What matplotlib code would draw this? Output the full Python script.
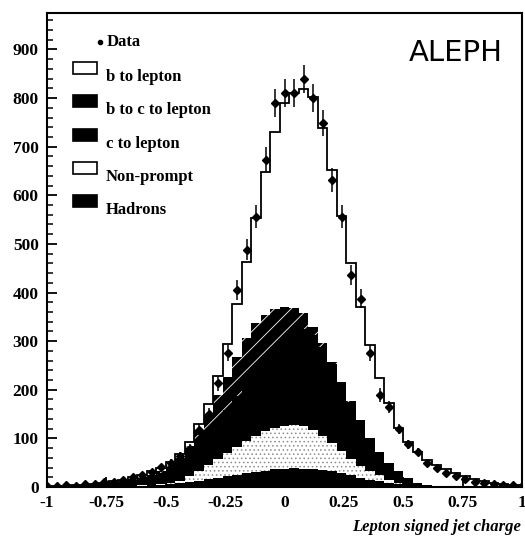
import numpy as np
import matplotlib
matplotlib.use("Agg")
import matplotlib.pyplot as plt
from matplotlib.ticker import MultipleLocator
from matplotlib.patches import Rectangle

# ---------------------------------------------------------------
# Lepton signed jet charge, 51 bins of width 0.04 centred on 0
# ---------------------------------------------------------------
edges = np.linspace(-1.02, 1.02, 52)

# Monte Carlo components (entries per bin), bins left to right
hadrons = [0, 0, 0, 1, 1, 1, 1, 1, 2, 2, 3, 4, 5,
           6, 8, 11, 13, 16, 19, 22, 25, 28, 30, 33, 36,
           38, 39, 38, 37, 35, 32, 28, 24, 19, 15, 12, 9, 6,
           4, 3, 2, 1, 1, 0, 0, 0, 0, 0, 0, 0, 0]

non_prompt = [0, 0, 0, 0, 0, 0, 0, 0, 0, 0, 1, 1, 1,
              2, 4, 11, 20, 29, 38, 47, 57, 66, 74, 82, 86,
              88, 89, 87, 81, 70, 58, 46, 34, 25, 18, 12, 6, 3,
              1, 0, 0, 0, 0, 0, 0, 0, 0, 0, 0, 0, 0]

c_lepton = [2, 2, 3, 2, 3, 5, 7, 9, 9, 13, 14, 17, 23,
            31, 38, 45, 55, 61, 77, 90, 106, 122, 138, 147, 160,
            175, 190, 200, 194, 182, 164, 141, 117, 94, 67, 49, 34, 23,
            13, 5, 2, 1, 0, 0, 0, 0, 0, 0, 0, 0, 0]

b_c_lepton = [0, 0, 0, 0, 0, 0, 0, 0, 1, 1, 2, 3, 4,
              6, 10, 18, 30, 42, 55, 68, 80, 90, 95, 92, 84,
              70, 50, 32, 18, 9, 4, 2, 1, 0, 0, 0, 0, 0,
              0, 0, 0, 0, 0, 0, 0, 0, 0, 0, 0, 0, 0]

b_lepton = [0, 1, 0, 1, 1, 1, 1, 2, 3, 4, 5, 7, 7,
            6, 8, 8, 12, 23, 39, 67, 108, 157, 216, 294, 364,
            419, 443, 462, 472, 443, 394, 341, 285, 232, 192, 152, 124, 89,
            75, 64, 52, 43, 36, 29, 22, 16, 12, 9, 7, 5, 4]

# measured events
data = [3, 2, 4, 3, 6, 6, 10, 11, 14, 21, 24, 30, 41,
        50, 64, 79, 118, 151, 213, 275, 405, 488, 556, 673, 790,
        811, 811, 840, 800, 749, 632, 556, 436, 387, 276, 189, 165, 119,
        88, 72, 49, 39, 29, 23, 16, 10, 8, 6, 5, 4, 3]

xtick_pos = [-1, -0.75, -0.5, -0.25, 0, 0.25, 0.5, 0.75, 1]
xtick_lab = ["-1", "-0.75", "-0.5", "-0.25", "0", "0.25", "0.5", "0.75", "1"]

legend_items = ["b to lepton", "b to c to lepton", "c to lepton",
                "Non-prompt", "Hadrons"]
legend_faces = ["white", "black", "black", "white", "black"]

# cumulative levels of the stack
lvl1 = np.array(hadrons, float)
lvl2 = lvl1 + np.array(non_prompt)
lvl3 = lvl2 + np.array(c_lepton)
lvl4 = lvl3 + np.array(b_c_lepton)
total = lvl4 + np.array(b_lepton)
centers = 0.5 * (edges[:-1] + edges[1:])
data = np.array(data, float)

serif = "Liberation Serif"
plt.rcParams["hatch.linewidth"] = 0.6

fig = plt.figure(figsize=(5.25, 5.38), dpi=100)
ax = fig.add_axes([47 / 525, 51 / 538, 475 / 525, 474 / 538])

ax.stairs(lvl1, edges, baseline=0, fill=True, color="black", lw=0)
ax.stairs(lvl2, edges, baseline=lvl1, fill=True, facecolor="white",
          edgecolor="0.55", hatch="....", lw=0)
ax.stairs(lvl3, edges, baseline=lvl2, fill=True, color="black", lw=0)
ax.stairs(lvl4, edges, baseline=lvl3, fill=True, facecolor="black",
          edgecolor="white", hatch="//", lw=0)
ax.stairs(total, edges, baseline=None, color="black", lw=1.3)

ax.errorbar(centers, data, yerr=np.sqrt(data), xerr=0.012, fmt="D",
            ms=4.5, color="black", ecolor="black", elinewidth=1.1, capsize=0)

ax.set_xlim(-1, 1)
ax.set_ylim(0, 975)
ax.set_xticks(xtick_pos)
ax.set_xticklabels(xtick_lab)
ax.yaxis.set_major_locator(MultipleLocator(100))
ax.yaxis.set_minor_locator(MultipleLocator(20))
ax.tick_params(axis="both", which="major", direction="in", length=7,
               width=1.3, pad=6)
ax.tick_params(axis="y", which="minor", direction="in", length=4, width=1.1)
for lab in ax.get_xticklabels() + ax.get_yticklabels():
    lab.set_fontfamily(serif)
    lab.set_fontweight("bold")
    lab.set_fontsize(12.5)
for s in ax.spines.values():
    s.set_linewidth(1.5)

# hand-made legend in the upper left corner
def ax_xy(px, py):
    return (px - 47) / 475, (487 - py) / 474

x0, y0 = ax_xy(100, 42)
ax.plot([x0], [y0], "o", ms=3, color="black", transform=ax.transAxes)
tx, _ = ax_xy(107, 0)
ax.text(tx, y0, "Data", transform=ax.transAxes, family=serif,
        fontweight="bold", fontsize=12, va="center")
for i, (name, face) in enumerate(zip(legend_items, legend_faces)):
    top = 62 + 33.3 * i
    bx, by = ax_xy(73, top + 12)
    ax.add_patch(Rectangle((bx, by), 24 / 475, 12 / 474, transform=ax.transAxes,
                           facecolor=face, edgecolor="black", lw=1.2))
    lx, ly = ax_xy(106, top + 15)
    ax.text(lx, ly, name, transform=ax.transAxes, family=serif,
            fontweight="bold", fontsize=12, va="center")

fig.text(456 / 525, 1 - 53 / 538, "ALEPH", fontsize=21, ha="center",
         va="center", family="DejaVu Sans")
fig.text(521 / 525, 1 - 527 / 538, "Lepton signed jet charge", family=serif,
         fontweight="bold", style="italic", fontsize=12, ha="right", va="center")

fig.savefig("out.png", dpi=100)
